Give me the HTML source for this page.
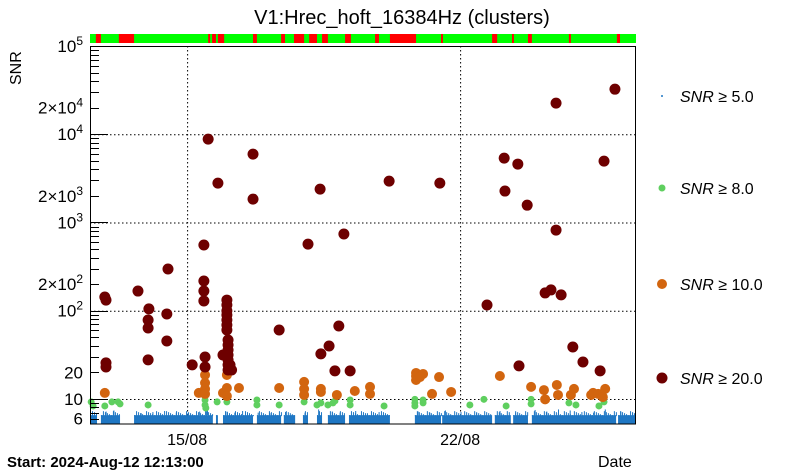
<!DOCTYPE html>
<html><head><meta charset="utf-8"><style>
html,body{margin:0;padding:0;background:#fff;}
svg{display:block;font-family:"Liberation Sans",sans-serif;}
</style></head><body>
<svg id="chart" width="805" height="472" viewBox="0 0 805 472"></svg>
<script>
// ---- data ----
const redDays=[0.38,0.41,0.41,0.41,1.23,1.51,1.49,1.49,1.49,1.97,1.97,2.0,2.62,2.92,2.92,2.92,2.92,2.95,2.95,3.03,3.28,3.51,3.51,3.51,3.51,3.51,3.51,3.51,3.54,3.54,3.54,3.54,3.54,3.54,3.54,3.41,3.59,3.63,4.18,4.18,4.85,5.59,5.90,5.92,6.13,6.38,6.51,6.28,6.67,7.67,8.97,10.18,10.62,10.64,10.97,11.21,11.0,11.95,11.95,12.08,11.67,11.82,12.38,12.64,13.08,13.18,13.46];
const redSnr=[143,132,25.6,23.0,167,105,78.5,63.7,27.7,91.8,45.4,297,24.3,555,217,167,129,29.9,23.0,8800,2790,132,116,100,89.4,78.5,68.9,60.4,46.6,40.9,35.9,31.5,27.7,24.3,21.3,31.5,24.3,21.3,1840,5950,60.4,569,2390,32.4,39.8,67.1,740,20.8,20.8,2940,2790,116,5360,2270,4590,1570,23.7,820,22500,151,159,172,38.8,26.2,20.8,4960,32400];
const orangeDays=[0.38,2.79,2.95,2.95,2.95,2.95,3.41,3.51,3.51,3.51,3.82,4.85,5.49,5.49,5.49,5.92,5.92,6.33,6.79,7.18,7.18,8.36,8.36,8.36,8.54,8.46,8.95,8.77,9.26,10.51,11.31,11.64,11.67,12.0,11.97,12.33,12.41,12.85,12.90,13.03,13.15,13.21];
const orangeSnr=[11.7,11.7,18.7,15.2,13.0,11.4,11.7,13.3,10.8,18.7,13.3,13.3,15.6,13.0,11.1,13.0,12.0,11.1,12.3,13.7,11.4,19.7,18.2,16.4,19.2,17.7,17.7,11.4,12.0,18.2,13.7,12.6,9.9,11.1,14.4,11.1,13.0,11.1,11.7,11.4,10.5,13.0];
const greenDays=[0.03,0.08,0.38,0.56,0.72,0.77,1.49,2.95,2.95,2.97,3.26,3.51,4.28,4.28,4.85,5.49,5.82,5.92,6.10,6.23,6.28,6.67,6.67,7.54,8.33,8.33,8.33,8.54,8.54,9.74,10.10,10.67,11.31,11.31,12.28,12.46,13.05,13.18];
const greenSnr=[9.25,8.33,8.33,9.25,9.25,8.78,8.55,9.74,8.55,7.9,9.25,9.25,9.74,8.55,8.55,9.25,8.55,9.01,8.55,9.01,9.49,9.74,8.55,8.33,9.9,9.01,8.33,9.74,9.01,8.55,9.9,8.33,9.9,8.78,9.01,8.55,8.33,9.25];
const blueSegStart=[0,0.28,1.13,3.23,3.41,4.28,4.97,5.46,5.82,6.10,6.64,8.33,9.03,10.38,10.85,11.33,13.54];
const blueSegEnd=[0.18,0.77,3.15,3.28,4.18,4.90,5.26,5.59,5.95,6.54,7.69,9.0,10.31,10.79,11.23,13.49,14.0];
const blueFloor=6.55;
const blueSpikeDays=[0.05,0.4,0.6,1.3,1.6,1.9,2.2,2.5,2.8,2.95,3.0,3.5,3.7,3.9,4.3,4.6,5.0,5.5,5.85,6.2,6.4,6.8,7.1,7.4,8.4,8.7,9.1,9.5,9.9,10.5,10.9,11.4,11.7,12.0,12.3,12.6,12.9,13.2,13.6,13.9];
const blueSpikeSnr=[7.0,7.2,7.4,6.9,7.1,7.3,7.0,6.9,7.2,7.8,7.5,7.2,7.0,7.3,7.0,6.9,7.1,7.0,7.6,7.2,7.0,7.3,6.9,7.1,7.2,7.0,7.4,7.1,6.9,7.3,7.0,7.5,7.2,7.6,7.4,7.1,7.0,7.6,7.2,7.0];
const flagStart=[0.15,0.74,3.03,3.13,3.28,4.18,4.90,5.23,5.62,5.95,6.54,7.31,7.69,9.0,10.31,10.82,11.23,12.28,13.51];
const flagEnd=[0.28,1.13,3.08,3.23,3.44,4.28,5.0,5.49,5.82,6.10,6.69,7.41,8.36,9.05,10.44,10.87,11.33,12.33,13.59];
const yMajor=[10,100,1000,10000,100000];
const yLabels=[[100000,"10","5"],[20000,"2×10","4"],[10000,"10","4"],[2000,"2×10","3"],[1000,"10","3"],[200,"2×10","2"],[100,"10","2"],[20,"20",""],[10,"10",""],[6,"6",""]];
const xTickDays=[2.49,9.49];
const xTickLabels=["15/08","22/08"];

// ---- axes ----
const X0=90,X1=636,Y0=424,YTOP=46;
const dayMax=14, snrMin=5.2, snrMax=100000;
const xs=d=>X0+(X1-X0)*d/dayMax;
const ys=v=>Y0-(Y0-YTOP)*(Math.log10(v)-Math.log10(snrMin))/(Math.log10(snrMax)-Math.log10(snrMin));
const svg=document.getElementById('chart');
const NS='http://www.w3.org/2000/svg';
function mk(tag,attrs,parent){const e=document.createElementNS(NS,tag);for(const k in attrs)e.setAttribute(k,attrs[k]);(parent||svg).appendChild(e);return e;}

let t=mk('text',{x:402,y:24,'text-anchor':'middle','font-size':20});
t.textContent='V1:Hrec_hoft_16384Hz (clusters)';



let fg=mk('g',{});


mk('rect',{x:X0,y:34,width:X1-X0,height:9,fill:'#00ff00'},fg);
for(let i=0;i<flagStart.length;i++){
  let r=mk('rect',{x:xs(flagStart[i]),y:34,width:xs(flagEnd[i])-xs(flagStart[i]),height:9,fill:'#ff0000'},fg);
  
  
}

let gg=mk('g',{stroke:'#000','stroke-width':1,'stroke-dasharray':'1.5,2.5'});


yMajor.slice(0,4).forEach(v=>mk('line',{x1:X0,x2:X1,y1:ys(v)+0.5,y2:ys(v)+0.5},gg));
xTickDays.forEach(d=>mk('line',{x1:xs(d)+0.5,x2:xs(d)+0.5,y1:YTOP,y2:Y0},gg));

let bg=mk('g',{fill:'#1f77c4'});


for(let i=0;i<blueSegStart.length;i++){
  const x=xs(blueSegStart[i]),w=xs(blueSegEnd[i])-x;
  let r=mk('rect',{x:x,y:ys(blueFloor),width:w,height:Y0-ys(blueFloor)},bg);
  
  
  for(let k=0;k<w;k+=2){
    const h=(k*7)%5;
    mk('rect',{x:x+k,y:ys(blueFloor)-h,width:1,height:h+1},bg);
  }
}
for(let i=0;i<blueSpikeDays.length;i++){
  let r=mk('rect',{x:xs(blueSpikeDays[i]),y:ys(blueSpikeSnr[i]),width:1,height:ys(blueFloor)-ys(blueSpikeSnr[i])},bg);
  
  
}

function dots(days,vals,r,col,name){
  let g=mk('g',{fill:col});
  
  
  for(let i=0;i<days.length;i++){
    let c=mk('circle',{cx:xs(days[i]),cy:ys(vals[i]),r:r},g);
    
    
  }
}
dots(greenDays,greenSnr,3.5,'#5fcf5f','series-snr-8');
dots(orangeDays,orangeSnr,5,'#d2650f','series-snr-10');
dots(redDays,redSnr,5.5,'#6e0000','series-snr-20');

let ax=mk('g',{stroke:'#000','stroke-width':1,fill:'none'});


mk('rect',{x:X0+0.5,y:YTOP+0.5,width:X1-X0-1,height:Y0-YTOP-0.5},ax);
for(let e=0;e<5;e++){
  for(let m=1;m<10;m++){
    const v=m*Math.pow(10,e);
    if(v<snrMin||v>snrMax)continue;
    const y=Math.round(ys(v))+0.5;
    const L=(m==1)?18:9;
    mk('line',{x1:X0,x2:X0+L,y1:y,y2:y},ax);
  }
}

yLabels.forEach(l=>{
  let tx=mk('text',{x:83,y:ys(l[0])+6,'text-anchor':'end','font-size':17});
  
  
  tx.appendChild(document.createTextNode(l[1]));
  if(l[2]){let s=mk('tspan',{dy:-7,'font-size':12},tx);s.textContent=l[2];}
});
xTickLabels.forEach((s,i)=>{
  let tx=mk('text',{x:xs(xTickDays[i]),y:445,'text-anchor':'middle','font-size':16});
  tx.textContent=s;
  
  
});

let yt=mk('text',{x:21,y:85,'font-size':16,transform:'rotate(-90 21 85)'});
yt.textContent='SNR';


let st=mk('text',{x:7,y:467,'font-size':15,'font-weight':'bold'});
st.textContent='Start: 2024-Aug-12 12:13:00';


let dt=mk('text',{x:598,y:467,'font-size':16});
dt.textContent='Date';



const legY=[96,188,284,378], legCol=['#1f77c4','#5fcf5f','#d2650f','#6e0000'], legR=[1,3.5,5,5.5], legTxt=['5.0','8.0','10.0','20.0'];
for(let i=0;i<4;i++){
  let g=mk('g',{});
  
  
  mk('circle',{cx:662,cy:legY[i],r:legR[i],fill:legCol[i]},g);
  let tx=mk('text',{x:680,y:legY[i]+6,'font-size':16},g);
  let a=mk('tspan',{'font-style':'italic'},tx);a.textContent='SNR';
  let b=mk('tspan',{},tx);b.textContent=' ≥ '+legTxt[i];
}
</script>
</body></html>
